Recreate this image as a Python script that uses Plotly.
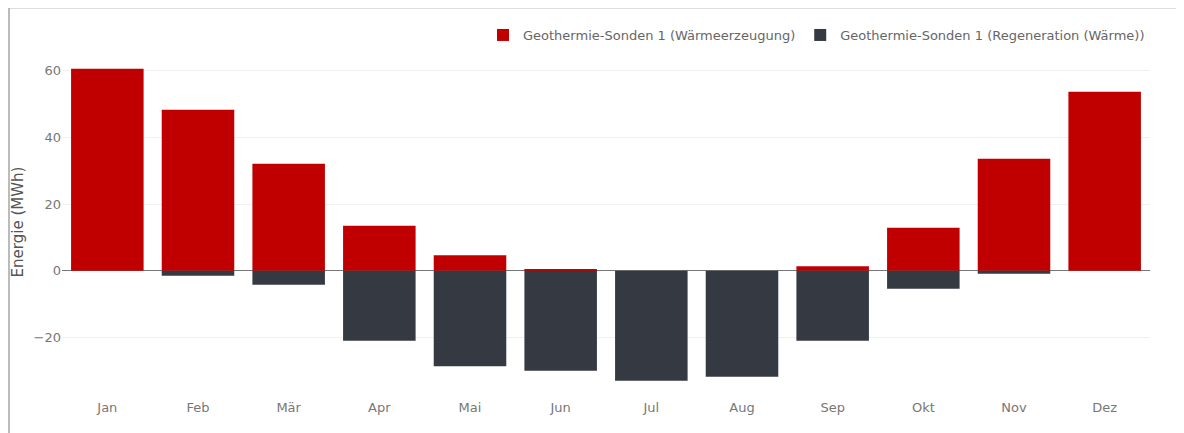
import plotly.graph_objects as go

months = ["Jan", "Feb", "Mär", "Apr", "Mai", "Jun", "Jul", "Aug", "Sep", "Okt", "Nov", "Dez"]
waermeerzeugung = [60.6, 48.3, 32.1, 13.5, 4.6, 0.5, 0.0, 0.0, 1.3, 12.9, 33.6, 53.7]
regeneration = [0.0, -1.5, -4.2, -21.0, -28.7, -30.0, -33.0, -31.8, -21.0, -5.4, -0.9, 0.0]

name_a = "Geothermie-Sonden 1 (Wärmeerzeugung)"
name_b = "Geothermie-Sonden 1 (Regeneration (Wärme))"

fig = go.Figure()
fig.add_trace(go.Bar(x=months, y=waermeerzeugung, name=name_a,
                     marker=dict(color="#c00000", line=dict(width=0))))
fig.add_trace(go.Bar(x=months, y=regeneration, name=name_b,
                     marker=dict(color="#353a42", line=dict(width=0))))

fig.update_layout(
    width=1176, height=425,
    margin=dict(l=54, r=34, t=46, b=43, autoexpand=False),
    barmode="relative",
    bargap=0.2,
    paper_bgcolor="white",
    plot_bgcolor="white",
    font=dict(family="DejaVu Sans, Verdana, sans-serif", size=13, color="#777"),
    showlegend=True,
    legend=dict(orientation="h", x=1, xanchor="right", y=1.0565, yanchor="middle",
                font=dict(size=13, color="#666"), traceorder="normal"),
    xaxis=dict(showgrid=False, showline=False, ticks="", ticklabelstandoff=8,
               tickfont=dict(size=13, color="#777")),
    yaxis=dict(range=[-35.8, 65], tickvals=[-20, 0, 20, 40, 60], ticktext=["−20", "0", "20", "40", "60"],
               showgrid=True, gridcolor="#f0f0f0", gridwidth=1,
               zeroline=True, zerolinecolor="#777", zerolinewidth=1,
               showline=False, ticks="", tickfont=dict(size=13, color="#777"),
               title=dict(text="Energie (MWh)", font=dict(size=15, color="#555"), standoff=6)),
    shapes=[
        dict(type="line", xref="paper", yref="paper", x0=-0.0487, x1=1.2, y0=1.1385, y1=1.1385,
             line=dict(color="#bbbbbb", width=2)),
        dict(type="line", xref="paper", yref="paper", x0=-0.0487, x1=-0.0487, y0=-0.2, y1=1.1385,
             line=dict(color="#bbbbbb", width=2)),
    ],
)

fig.write_html("out.html")
